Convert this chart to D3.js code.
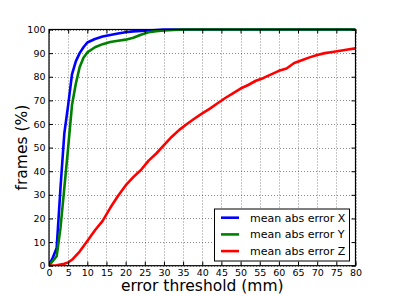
<!DOCTYPE html>
<html>
<head>
<meta charset="utf-8">
<script src="https://cdn.jsdelivr.net/npm/d3@7"></script>
<style>
  body { margin: 0; background: #fff; }
  svg { font-family: "DejaVu Sans", sans-serif; }
</style>
</head>
<body>
<svg id="chart" width="395" height="296"></svg>
<script>
// error threshold (mm) -> cumulative frames (%)
var errX = [[0,0],[1,3.5],[2,7.5],[3,33],[4,56],[5,68],[6,81],[7,86.5],[8,90],[9,92.5],[10,94.5],
            [12,96],[14,97],[16,97.7],[18,98.3],[20,98.8],[22,99.2],[25,99.5],[28,99.8],[30,100],[80,100]];
var errY = [[0,0],[1,2],[2,4],[3,16],[4,33],[5,50],[6,68],[7,77],[8,84],[9,88],[10,90.3],[12,92.5],
            [14,93.8],[16,94.7],[18,95.2],[20,95.7],[22,96.5],[24,97.8],[26,98.8],[28,99.3],[30,99.6],
            [35,100],[80,100]];
var errZ = [[0,0],[2,0.2],[4,0.8],[5,1.4],[6,2.5],[8,6],[10,10.5],[12,15],[14,19],[16,24.5],[18,29.5],
            [20,34],[22,37.5],[24,40.5],[26,44.5],[28,47.5],[30,51],[32,54.5],[34,57.5],[36,60],
            [38,62.3],[40,64.5],[42,66.5],[44,68.8],[46,71],[48,73],[50,75],[52,76.5],[54,78.3],
            [56,79.5],[58,81],[60,82.5],[62,83.5],[64,85.8],[66,87],[68,88.2],[70,89.2],[72,90],
            [74,90.5],[76,91],[78,91.5],[80,92]];
var seriesNames = ["mean abs error X", "mean abs error Y", "mean abs error Z"];
var seriesColors = ["#0000ff", "#008000", "#ff0000"];
var xTicks = d3.range(0, 81, 5);
var yTicks = d3.range(0, 101, 10);

var svg = d3.select("#chart");
var m = {left: 49, top: 29.5, right: 355.5, bottom: 265.7};

var x = d3.scaleLinear().domain([0, 80]).range([m.left, m.right]);
var y = d3.scaleLinear().domain([0, 100]).range([m.bottom, m.top]);

// grid (dotted, like matplotlib classic)
var grid = svg.append("g");
grid.selectAll("line.gx").data(xTicks).enter().append("line")
    .attr("x1", function(d){ return Math.round(x(d)) + 0.5; })
    .attr("x2", function(d){ return Math.round(x(d)) + 0.5; })
    .attr("y1", m.top).attr("y2", m.bottom)
    .attr("stroke", "#000").attr("stroke-opacity", 0.45)
    .attr("stroke-width", 1).attr("stroke-dasharray", "1,2");
grid.selectAll("line.gy").data(yTicks).enter().append("line")
    .attr("y1", function(d){ return Math.round(y(d)) + 0.5; })
    .attr("y2", function(d){ return Math.round(y(d)) + 0.5; })
    .attr("x1", m.left).attr("x2", m.right)
    .attr("stroke", "#000").attr("stroke-opacity", 0.45)
    .attr("stroke-width", 1).attr("stroke-dasharray", "1,2");

// curves
var line = d3.line()
    .x(function(d){ return x(d[0]); })
    .y(function(d){ return y(d[1]); });

svg.append("defs").append("clipPath").attr("id", "clip")
  .append("rect").attr("x", m.left).attr("y", m.top - 2)
  .attr("width", m.right - m.left).attr("height", m.bottom - m.top + 2);

[errX, errY, errZ].forEach(function(s, i) {
    svg.append("path")
        .attr("d", line(s))
        .attr("fill", "none")
        .attr("stroke", seriesColors[i])
        .attr("stroke-width", 2.6)
        .attr("stroke-linejoin", "round")
        .attr("clip-path", "url(#clip)");
});

// axes, ticks pointing inward, on all four sides
var xAxis = d3.axisBottom(x).tickValues(xTicks).tickSize(-4).tickPadding(3.5);
var yAxis = d3.axisLeft(y).tickValues(yTicks).tickSize(-4).tickPadding(3.5);
var gx = svg.append("g").attr("transform", "translate(0," + m.bottom + ")").call(xAxis);
var gy = svg.append("g").attr("transform", "translate(" + m.left + ",0)").call(yAxis);
var gx2 = svg.append("g").attr("transform", "translate(0," + m.top + ")")
    .call(d3.axisTop(x).tickValues(xTicks).tickSize(-4).tickFormat(""));
var gy2 = svg.append("g").attr("transform", "translate(" + m.right + ",0)")
    .call(d3.axisRight(y).tickValues(yTicks).tickSize(-4).tickFormat(""));

[gx, gy, gx2, gy2].forEach(function(g) {
    g.select(".domain").remove();
    g.selectAll(".tick line").attr("stroke", "#000");
    g.selectAll("text").attr("font-size", 9.5).attr("fill", "#000")
        .attr("font-family", "DejaVu Sans");
});

// frame
svg.append("rect")
    .attr("x", m.left).attr("y", m.top)
    .attr("width", m.right - m.left).attr("height", m.bottom - m.top)
    .attr("fill", "none").attr("stroke", "#000").attr("stroke-width", 1.2);

// axis labels
svg.append("text")
    .attr("x", (m.left + m.right) / 2).attr("y", 291)
    .attr("text-anchor", "middle").attr("font-size", 15.5)
    .text("error threshold (mm)");
svg.append("text")
    .attr("transform", "translate(27," + ((m.top + m.bottom) / 2) + ")rotate(-90)")
    .attr("text-anchor", "middle").attr("font-size", 15.5)
    .text("frames (%)");

// legend
var lg = svg.append("g");
lg.append("rect")
    .attr("x", 214.5).attr("y", 209).attr("width", 135).attr("height", 52)
    .attr("fill", "#fff").attr("stroke", "#000").attr("stroke-width", 1);
seriesNames.forEach(function(name, i) {
    var cy = 217.7 + i * 16.7;
    lg.append("line")
        .attr("x1", 221).attr("x2", 239).attr("y1", cy).attr("y2", cy)
        .attr("stroke", seriesColors[i]).attr("stroke-width", 2.6);
    lg.append("text")
        .attr("x", 250).attr("y", cy).attr("dy", "0.36em")
        .attr("font-size", 11).text(name);
});
</script>
</body>
</html>
